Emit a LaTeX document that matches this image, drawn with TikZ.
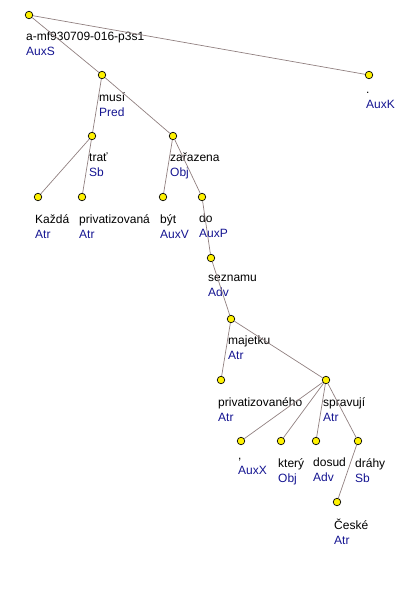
\documentclass[tikz,border=0pt]{standalone}
\usepackage{fontspec}
\setmainfont{Liberation Sans}
\usetikzlibrary{positioning}
\definecolor{edgegray}{RGB}{145,128,128}
\definecolor{afunblue}{RGB}{20,20,145}

\begin{document}
\begin{tikzpicture}[
  x=1pt,y=-1pt,
  tok/.style={circle,draw,fill=yellow,minimum size=7.5pt,inner sep=0pt,line width=0.7pt},
  lab/.style={anchor=north west,align=left,inner sep=0pt,xshift=-3pt,yshift=-17pt,
    font=\fontsize{12}{15}\selectfont},
  dep/.style={draw=edgegray,line width=0.7pt}
]
  \useasboundingbox (0,0) rectangle (420,611);

  % tokens
  \node[tok] (root) at (29,15) {};
  \node[tok] (musi) at (102,75) {};
  \node[tok] (auxk) at (369,75) {};
  \node[tok] (trat) at (92,136) {};
  \node[tok] (zarazena) at (173,136) {};
  \node[tok] (kazda) at (38,197) {};
  \node[tok] (privatizovana) at (82,197) {};
  \node[tok] (byt) at (163,197) {};
  \node[tok] (dop) at (202,197) {};
  \node[tok] (seznamu) at (211,258) {};
  \node[tok] (majetku) at (231,319) {};
  \node[tok] (privatizovaneho) at (221,380) {};
  \node[tok] (spravuji) at (326,380) {};
  \node[tok] (comma) at (241,441) {};
  \node[tok] (ktery) at (281,441) {};
  \node[tok] (dosud) at (316,441) {};
  \node[tok] (drahy) at (358,441) {};
  \node[tok] (ceske) at (337,502) {};

  % labels
  \node[lab] (root-l) at (root) {a-mf930709-016-p3s1\\\textcolor{afunblue}{AuxS}};
  \node[lab] (musi-l) at (musi) {musí\\\textcolor{afunblue}{Pred}};
  \node[lab] (auxk-l) at (auxk) {.\\\textcolor{afunblue}{AuxK}};
  \node[lab] (trat-l) at (trat) {trať\\\textcolor{afunblue}{Sb}};
  \node[lab] (zarazena-l) at (zarazena) {zařazena\\\textcolor{afunblue}{Obj}};
  \node[lab] (kazda-l) at (kazda) {Každá\\\textcolor{afunblue}{Atr}};
  \node[lab] (privatizovana-l) at (privatizovana) {privatizovaná\\\textcolor{afunblue}{Atr}};
  \node[lab] (byt-l) at (byt) {být\\\textcolor{afunblue}{AuxV}};
  \node[lab] (dop-l) at (dop) {do\\\textcolor{afunblue}{AuxP}};
  \node[lab] (seznamu-l) at (seznamu) {seznamu\\\textcolor{afunblue}{Adv}};
  \node[lab] (majetku-l) at (majetku) {majetku\\\textcolor{afunblue}{Atr}};
  \node[lab] (privatizovaneho-l) at (privatizovaneho) {privatizovaného\\\textcolor{afunblue}{Atr}};
  \node[lab] (spravuji-l) at (spravuji) {spravují\\\textcolor{afunblue}{Atr}};
  \node[lab] (comma-l) at (comma) {,\\\textcolor{afunblue}{AuxX}};
  \node[lab] (ktery-l) at (ktery) {který\\\textcolor{afunblue}{Obj}};
  \node[lab] (dosud-l) at (dosud) {dosud\\\textcolor{afunblue}{Adv}};
  \node[lab] (drahy-l) at (drahy) {dráhy\\\textcolor{afunblue}{Sb}};
  \node[lab] (ceske-l) at (ceske) {České\\\textcolor{afunblue}{Atr}};

  % dependencies
  \draw[dep] (root) -- (musi);
  \draw[dep] (root) -- (auxk);
  \draw[dep] (musi) -- (trat);
  \draw[dep] (musi) -- (zarazena);
  \draw[dep] (trat) -- (kazda);
  \draw[dep] (trat) -- (privatizovana);
  \draw[dep] (zarazena) -- (byt);
  \draw[dep] (zarazena) -- (dop);
  \draw[dep] (dop) -- (seznamu);
  \draw[dep] (seznamu) -- (majetku);
  \draw[dep] (majetku) -- (privatizovaneho);
  \draw[dep] (majetku) -- (spravuji);
  \draw[dep] (spravuji) -- (comma);
  \draw[dep] (spravuji) -- (ktery);
  \draw[dep] (spravuji) -- (dosud);
  \draw[dep] (spravuji) -- (drahy);
  \draw[dep] (drahy) -- (ceske);
\end{tikzpicture}
\end{document}
